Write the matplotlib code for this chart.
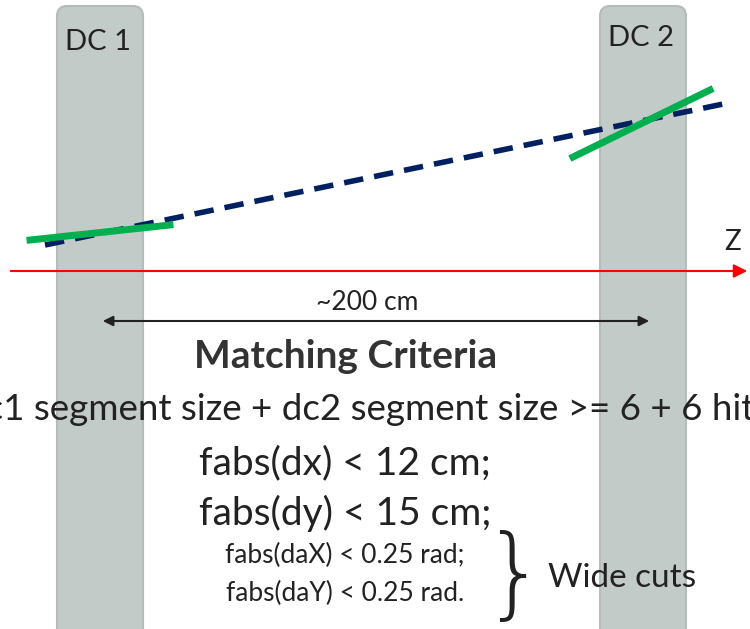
import matplotlib.pyplot as plt
from matplotlib.patches import FancyBboxPatch

chambers = ["DC 1", "DC 2"]
criteria_title = "Matching Criteria"
criteria_main = ["dc1 segment size + dc2 segment size >= 6 + 6 hits",
                 "fabs(dx) < 12 cm;", "fabs(dy) < 15 cm;"]
criteria_small = ["fabs(daX) < 0.25 rad;", "fabs(daY) < 0.25 rad."]
brace_label = "Wide cuts"
distance_label = "~200 cm"
axis_label = "Z"

plt.rcParams['font.family'] = ['Lato', 'DejaVu Sans']
fig = plt.figure(figsize=(7.5, 6.29), dpi=100)
ax = fig.add_axes([0, 0, 1, 1])
ax.set_xlim(0, 750)
ax.set_ylim(629, 0)
ax.axis('off')

# chambers
for x0, name, ty in [(57, chambers[0], 42), (600, chambers[1], 38)]:
    ax.add_patch(FancyBboxPatch((x0, 6), 86, 660, boxstyle="round,pad=0,rounding_size=10",
                                fc='#c3cbc8', ec='#b4bdb9', lw=1.5, zorder=1))
    ax.text(x0 + 41, ty, name, fontsize=21, ha='center', va='center', color='#222222', zorder=5)

# track
ax.plot([45, 728], [245, 103], color='#002060', lw=4, ls=(0, (3.5, 2)), zorder=3)
ax.plot([30, 170], [240, 225], color='#00b050', lw=5, zorder=4)
ax.plot([573, 710], [157, 90], color='#00b050', lw=5, zorder=4)

# z axis
ax.annotate('', xy=(750, 271), xytext=(8, 271),
            arrowprops=dict(arrowstyle='-|>', color='red', lw=1.5, mutation_scale=20), zorder=4)
ax.text(733, 242, axis_label, fontsize=20, ha='center', va='center', color='#222222')

# distance
ax.annotate('', xy=(652, 321), xytext=(100, 321),
            arrowprops=dict(arrowstyle='<|-|>', color='#222222', lw=1.5, mutation_scale=15), zorder=4)
ax.text(367, 303, distance_label, fontsize=19, ha='center', va='center', color='#222222')

ax.text(346, 357, criteria_title, fontsize=28, fontweight='bold', ha='center', va='center', color='#333333')
ax.text(368, 410, criteria_main[0], fontsize=26.5, ha='center', va='center', color='#222222', clip_on=True)
for y, t in zip([463, 513], criteria_main[1:]):
    ax.text(345, y, t, fontsize=28, ha='center', va='center', color='#222222')
for y, t in zip([555, 593], criteria_small):
    ax.text(345, y, t, fontsize=19, ha='center', va='center', color='#222222')

# brace
ax.text(514, 578, '}', fontsize=72, ha='center', va='center', color='#222222',
        family='DejaVu Sans', fontweight='ultralight')
ax.text(622, 578, brace_label, fontsize=24, ha='center', va='center', color='#222222')

fig.savefig('out.png', dpi=100)
